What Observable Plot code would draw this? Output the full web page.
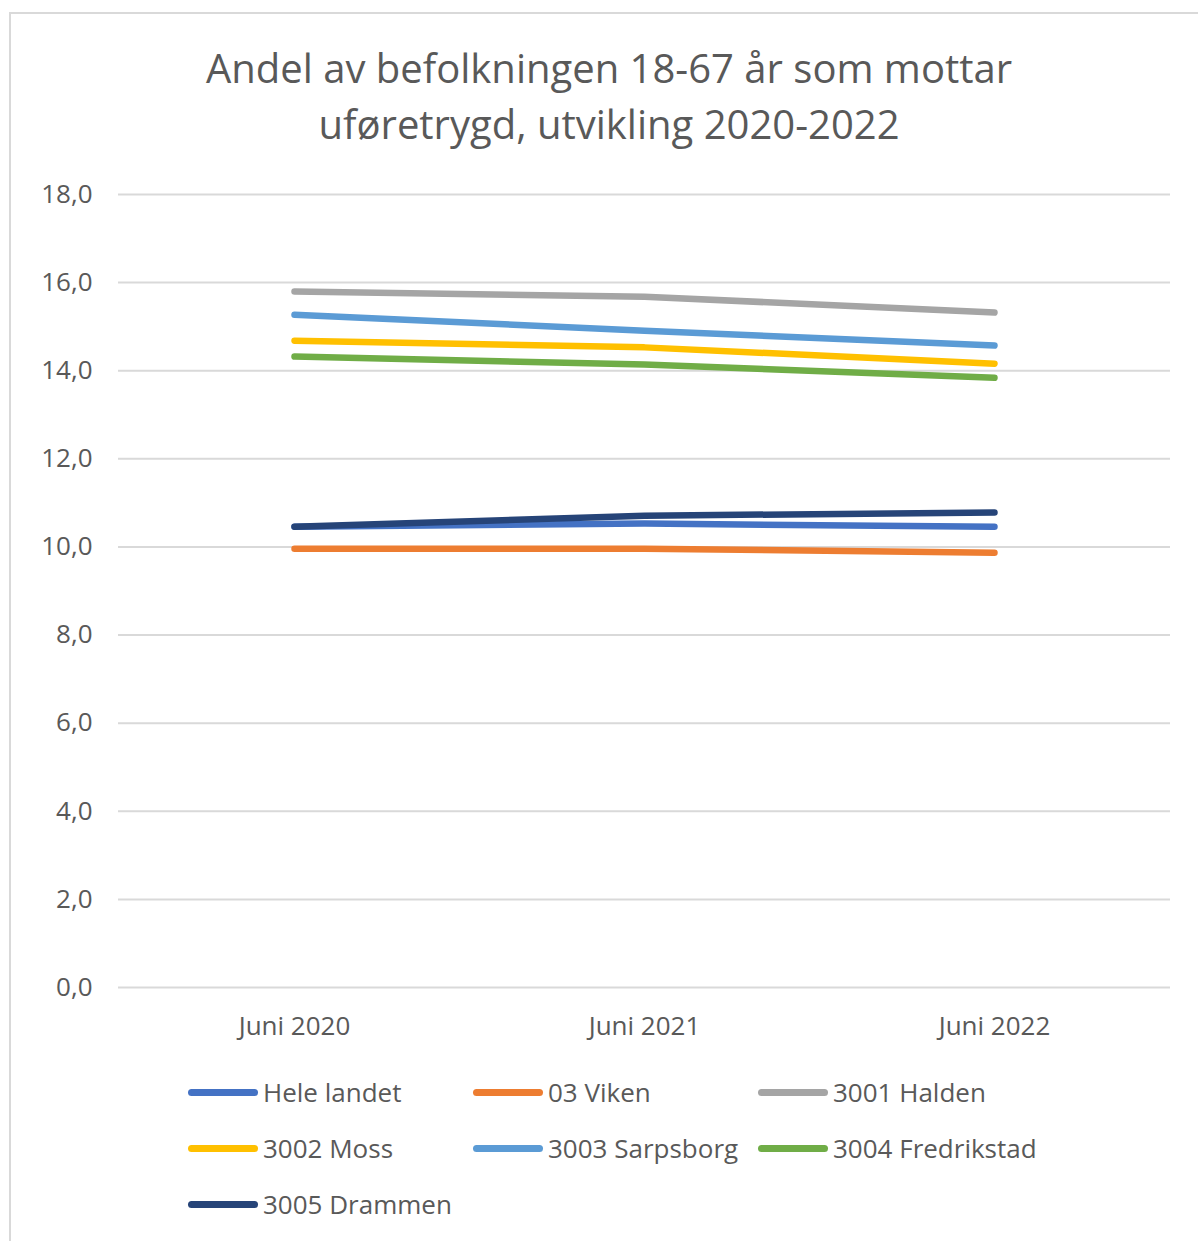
<!DOCTYPE html>
<html>
<head>
<meta charset="utf-8">
<script src="https://cdn.jsdelivr.net/npm/d3@7"></script>
<script src="https://cdn.jsdelivr.net/npm/@observablehq/plot@0.6"></script>
<style>
  html, body { margin: 0; padding: 0; background: #fff; }
  body { width: 1198px; height: 1241px; position: relative; overflow: hidden; font-family: "Open Sans", sans-serif; color: #595959; }
  #frame { position: absolute; left: 9px; top: 12px; width: 1200px; height: 1240px; border: 2px solid #d9d9d9; box-sizing: border-box; }
  #title { position: absolute; left: 0; top: 40px; width: 1218px; text-align: center; font-size: 40px; line-height: 56px; color: #595959; }
  #chart { position: absolute; left: 0; top: 170px; }
  #legend { position: absolute; left: 0; top: 0; }
  .item { position: absolute; display: flex; align-items: center; font-size: 26px; color: #595959; white-space: nowrap; }
  .sw { width: 70px; height: 7px; border-radius: 3.5px; margin-right: 5px; }
</style>
</head>
<body>
<div id="frame"></div>
<div id="title">Andel av befolkningen 18-67 år som mottar<br>uføretrygd, utvikling 2020-2022</div>
<div id="chart"></div>
<div id="legend"></div>
<script>
const categories = ["Juni 2020", "Juni 2021", "Juni 2022"];
const seriesNames = ["Hele landet", "03 Viken", "3001 Halden", "3002 Moss", "3003 Sarpsborg", "3004 Fredrikstad", "3005 Drammen"];
const heleLandet = [10.46, 10.53, 10.46];
const viken = [9.96, 9.96, 9.87];
const halden = [15.80, 15.68, 15.32];
const moss = [14.68, 14.53, 14.16];
const sarpsborg = [15.27, 14.91, 14.57];
const fredrikstad = [14.32, 14.14, 13.84];
const drammen = [10.46, 10.71, 10.78];
const colors = ["#4472C4", "#ED7D31", "#A5A5A5", "#FFC000", "#5B9BD5", "#70AD47", "#264478"];
const yTicks = [0, 2, 4, 6, 8, 10, 12, 14, 16, 18];

const allValues = [heleLandet, viken, halden, moss, sarpsborg, fredrikstad, drammen];
const data = [];
seriesNames.forEach((s, i) => {
  categories.forEach((c, j) => data.push({series: s, cat: c, value: allValues[i][j]}));
});

const fmt = d => d.toFixed(1).replace(".", ",");

const plot = Plot.plot({
  width: 1198,
  height: 900,
  marginLeft: 118,
  marginRight: 28,
  marginTop: 24,
  marginBottom: 83,
  style: { fontFamily: "Open Sans, sans-serif", fontSize: "26px", color: "#595959", background: "transparent", overflow: "visible" },
  x: { type: "point", domain: categories, padding: 0.5, label: null },
  y: { domain: [0, 18], ticks: yTicks, label: null },
  color: { domain: seriesNames, range: colors },
  marks: [
    Plot.ruleY(yTicks, { stroke: "#d9d9d9", strokeWidth: 2 }),
    Plot.axisY({ ticks: yTicks, tickFormat: fmt, tickSize: 0, tickPadding: 26, label: null, fill: "#595959" }),
    Plot.axisX({ tickSize: 0, tickPadding: 29, label: null, fill: "#595959" }),
    Plot.line(data, { x: "cat", y: "value", z: "series", stroke: "series", strokeWidth: 6.5, strokeLinecap: "round", strokeLinejoin: "round", curve: "linear" })
  ]
});
document.getElementById("chart").appendChild(plot);

const legend = document.getElementById("legend");
const colX = [188, 473, 758];
const rowY = [1092, 1148, 1204];
seriesNames.forEach((s, i) => {
  const el = document.createElement("div");
  el.className = "item";
  el.style.left = colX[i % 3] + "px";
  el.style.top = (rowY[Math.floor(i / 3)] - 18) + "px";
  el.style.height = "36px";
  const sw = document.createElement("div");
  sw.className = "sw";
  sw.style.background = colors[i];
  el.appendChild(sw);
  const t = document.createElement("span");
  t.textContent = s;
  el.appendChild(t);
  legend.appendChild(el);
});
</script>
</body>
</html>
